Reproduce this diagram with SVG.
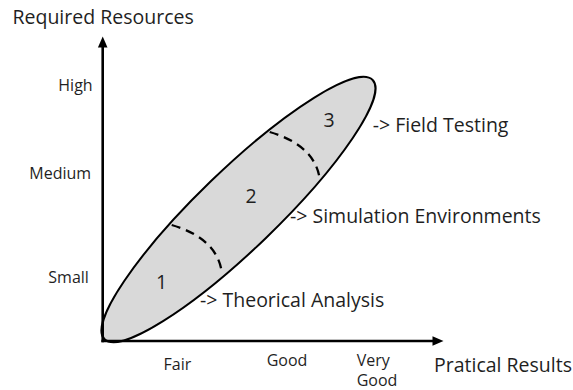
<svg xmlns="http://www.w3.org/2000/svg" width="573" height="390" viewBox="0 0 573 390">
  <defs>
    <style>
      .big { font-family: "Open Sans", "Noto Sans", sans-serif; font-size: 19.5px; fill: #1f1f1f; }
      .tick { font-family: "Open Sans", "Noto Sans", sans-serif; font-size: 16px; fill: #1f1f1f; }
      .axis { stroke: #000; stroke-width: 2.6; fill: none; }
      .arrow { fill: #000; stroke: none; }
      .dash { stroke: #000; stroke-width: 2.3; fill: none; stroke-dasharray: 9 6; }
    </style>
  </defs>
  <rect width="573" height="390" fill="#fff"/>

  <g id="region-ellipse">
    <ellipse cx="238.5" cy="209.5" rx="186.5" ry="39.5" transform="rotate(-44 238.5 209.5)" fill="#d9d9d9" stroke="#000" stroke-width="2"/>
  </g>

  <g id="connectors">
    <path class="dash" d="M171.7,225 Q216.7,238.3 221.7,271.7"/>
    <path class="dash" d="M269.7,132 Q314.7,145.3 319.7,178.7"/>
  </g>

  <g id="axes">
    <line class="axis" x1="102.7" y1="46" x2="102.7" y2="342.3"/>
    <polygon class="arrow" points="102.7,36.5 107.5,47.5 97.9,47.5"/>
    <line class="axis" x1="101.4" y1="341" x2="434" y2="341"/>
    <polygon class="arrow" points="443.5,341 432.5,336.2 432.5,345.8"/>
  </g>

  <g id="axis-titles">
    <text class="big" x="12.5" y="24.3">Required Resources</text>
    <text class="big" x="434" y="372">Pratical Results</text>
  </g>

  <g id="y-ticks">
    <text class="tick" x="58.3" y="90.7">High</text>
    <text class="tick" x="29.3" y="179">Medium</text>
    <text class="tick" x="48.3" y="282.7">Small</text>
  </g>

  <g id="x-ticks">
    <text class="tick" x="163.5" y="370">Fair</text>
    <text class="tick" x="266.7" y="366">Good</text>
    <text class="tick" x="356.7" y="365.5">Very</text>
    <text class="tick" x="356.7" y="386">Good</text>
  </g>

  <g id="stage-1">
    <text class="big" x="161.5" y="289.3" text-anchor="middle">1</text>
    <text class="big" x="200" y="307">-&gt; Theorical Analysis</text>
  </g>
  <g id="stage-2">
    <text class="big" x="251" y="203.3" text-anchor="middle">2</text>
    <text class="big" x="290" y="223.3">-&gt; Simulation Environments</text>
  </g>
  <g id="stage-3">
    <text class="big" x="329" y="126.7" text-anchor="middle">3</text>
    <text class="big" x="372.7" y="131.7">-&gt; Field Testing</text>
  </g>
</svg>
